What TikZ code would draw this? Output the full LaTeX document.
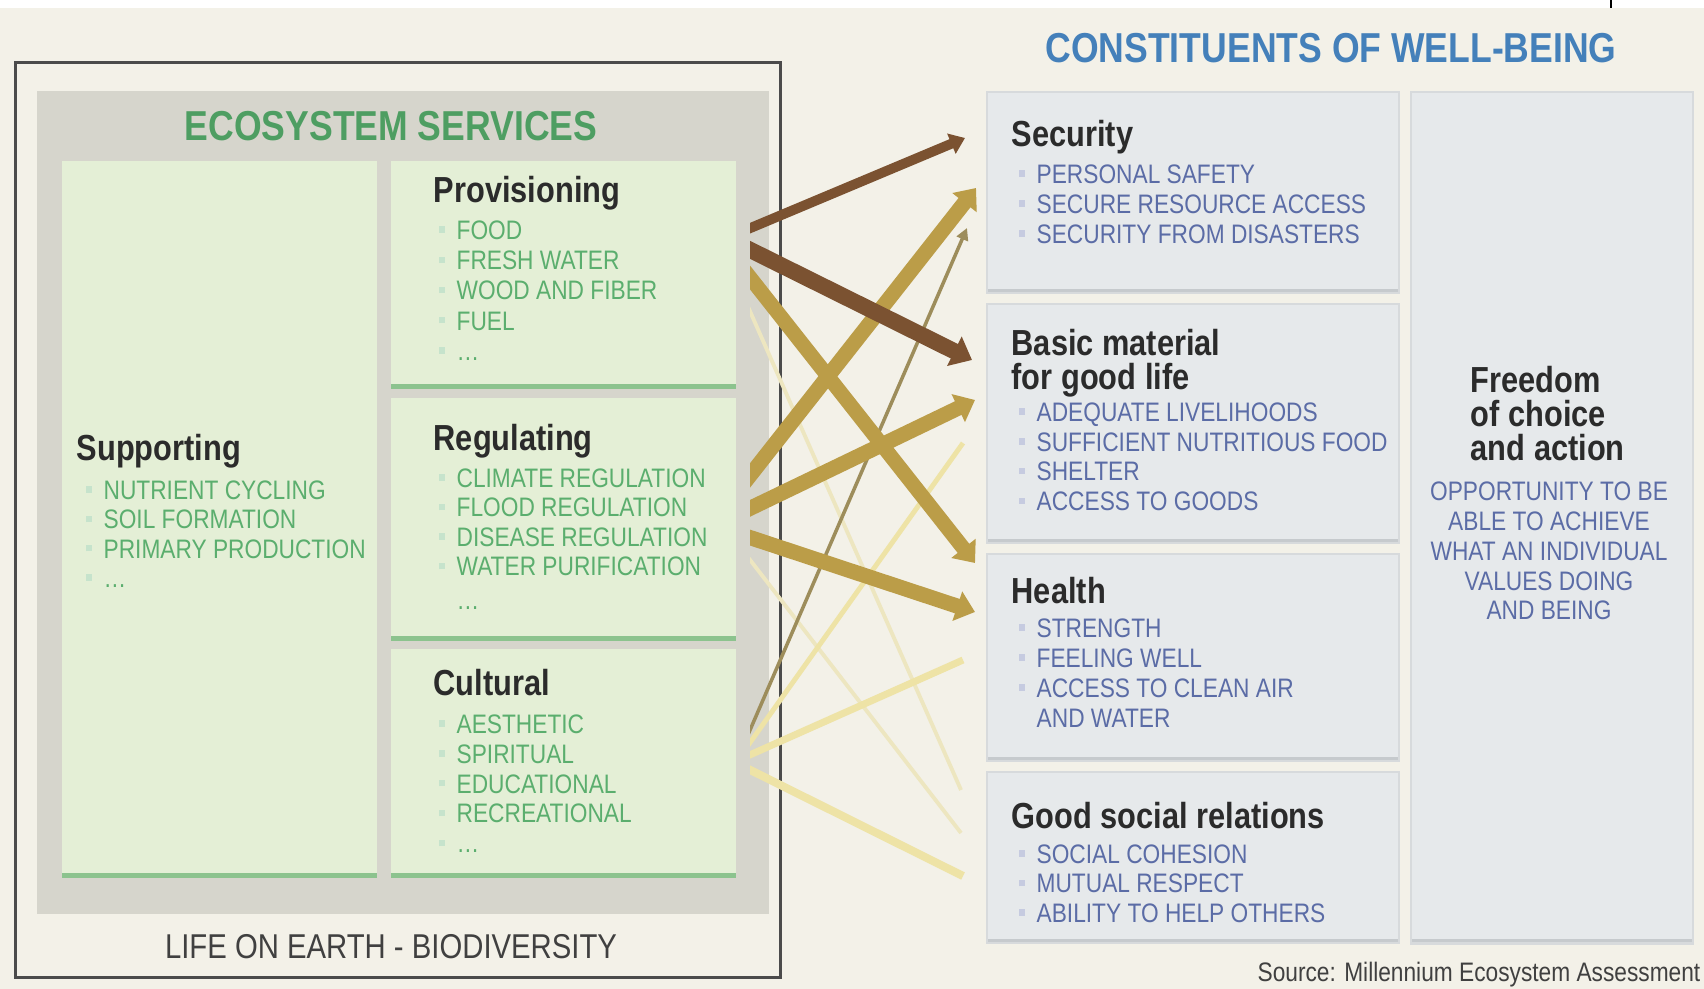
\documentclass[tikz,border=0pt]{standalone}
\usepackage{fontspec}
\setmainfont{Liberation Sans}[FakeStretch=0.85]
\usetikzlibrary{arrows.meta}

\definecolor{paper}{HTML}{F3F1E8}
\definecolor{frame}{HTML}{4B4B4B}
\definecolor{ecogray}{HTML}{D6D5CC}
\definecolor{ecofill}{HTML}{E4EFD6}
\definecolor{ecoline}{HTML}{8CC38E}
\definecolor{ecohead}{HTML}{4E9E62}
\definecolor{ecotext}{HTML}{5BAE6E}
\definecolor{wbfill}{HTML}{E6E9EB}
\definecolor{wbedge}{HTML}{C6CACD}
\definecolor{wbhead}{HTML}{4480BA}
\definecolor{wbtext}{HTML}{5B6CA6}
\definecolor{ink}{HTML}{2B2B2B}
\definecolor{linkbrown}{HTML}{7B5231}
\definecolor{linkgold}{HTML}{BB9D48}
\definecolor{linkolive}{HTML}{9D8D5B}
\definecolor{linkpale}{HTML}{EEE3A6}
\definecolor{linkpaler}{HTML}{EDE6C0}

\newcommand{\hdfont}{\fontsize{11.9}{13}\selectfont\bfseries}
\newcommand{\ttlfont}{\fontsize{10.3}{9.6}\selectfont\bfseries}
\newcommand{\itmfont}{\fontsize{7.6}{8.5}\selectfont}
\newcommand{\bul}{{\color{.!35}\rule[1.9pt]{1.8pt}{1.8pt}}\hspace{3.3pt}}

\tikzset{
  panel/.style={anchor=north west, inner sep=0pt, outer sep=0pt, fill=ecofill,
    path picture={\fill[ecoline] ([yshift=1.4pt]path picture bounding box.south west) rectangle (path picture bounding box.south east);}},
  wbbox/.style={anchor=north west, inner sep=0pt, outer sep=0pt, fill=wbfill, draw=wbedge!70, line width=0.6pt,
    path picture={\fill[wbedge] ([yshift=1.2pt]path picture bounding box.south west) rectangle (path picture bounding box.south east);}},
  ttl/.style={anchor=west, inner sep=0pt, font=\ttlfont, text=ink, text height=7.4pt, text depth=0pt},
  ttlblock/.style={anchor=north west, inner sep=0pt, font=\ttlfont, text=ink, align=left},
  ecoitem/.style={anchor=west, inner sep=0pt, font=\itmfont, text=ecotext, text height=5.4pt, text depth=0pt},
  wbitem/.style={ecoitem, text=wbtext},
  link/.style 2 args={draw=#1, line width=#2},
  tiphead/.style 2 args={-{Triangle[width=#1, length=#2]}}
}

\begin{document}
\begin{tikzpicture}[x=0.01cm, y=-0.01cm]
    \useasboundingbox (0,0) rectangle (1704,989);
    \fill[paper] (0,0) rectangle (1704,989);
    \fill[white] (0,0) rectangle (1704,8);
    \draw[black, line width=0.6pt] (1611,0) -- (1611,8);

    % ecosystem services side
    \node[anchor=north west, draw=frame, line width=0.85pt, fill=paper, inner sep=0pt, minimum width=7.65cm, minimum height=9.14cm] (earth) at (14,61) {};
    \node[anchor=north west, fill=ecogray, inner sep=0pt, minimum width=7.32cm, minimum height=8.23cm] (eco) at (36,90) {};
    \node[font=\hdfont, text=ecohead, inner sep=0pt] (ecotitle) at (391,126) {ECOSYSTEM SERVICES};
    \node[font=\fontsize{9.8}{11}\selectfont, text=ink!90, inner sep=0pt] (lifetitle) at (391,947) {LIFE ON EARTH - BIODIVERSITY};

    \node[panel, minimum width=3.15cm, minimum height=7.17cm] (sup) at (62,161) {};
    \node[panel, minimum width=3.45cm, minimum height=2.28cm] (prov) at (391,161) {};
    \node[panel, minimum width=3.45cm, minimum height=2.43cm] (reg) at (391,398) {};
    \node[panel, minimum width=3.45cm, minimum height=2.29cm] (cul) at (391,649) {};

    \node[ttl] (sup-t) at (76,447) {Supporting};
    \foreach \t [count=\i from 0] in {NUTRIENT CYCLING, SOIL FORMATION, PRIMARY PRODUCTION, \ldots}
      \node[ecoitem] (sup-\i) at (85,490+29.3*\i) {\bul\t};

    \node[ttl] (prov-t) at (433,189) {Provisioning};
    \foreach \t [count=\i from 0] in {FOOD, FRESH WATER, WOOD AND FIBER, FUEL, \ldots}
      \node[ecoitem] (prov-\i) at (438,230+30.2*\i) {\bul\t};

    \node[ttl] (reg-t) at (433,437) {Regulating};
    \foreach \t [count=\i from 0] in {CLIMATE REGULATION, FLOOD REGULATION, DISEASE REGULATION, WATER PURIFICATION}
      \node[ecoitem] (reg-\i) at (438,478+29.5*\i) {\bul\t};
    \node[ecoitem] (reg-4) at (456,600) {\ldots};

    \node[ttl] (cul-t) at (433,682) {Cultural};
    \foreach \t [count=\i from 0] in {AESTHETIC, SPIRITUAL, EDUCATIONAL, RECREATIONAL, \ldots}
      \node[ecoitem] (cul-\i) at (438,724+29.8*\i) {\bul\t};

    % constituents of well-being side
    \node[font=\hdfont, text=wbhead, inner sep=0pt] (wbtitle) at (1331,48) {CONSTITUENTS OF WELL-BEING};

    \node[wbbox, minimum width=4.12cm, minimum height=2.01cm] (sec) at (987,92) {};
    \node[wbbox, minimum width=4.12cm, minimum height=2.39cm] (basic) at (987,304) {};
    \node[wbbox, minimum width=4.12cm, minimum height=2.07cm] (health) at (987,554) {};
    \node[wbbox, minimum width=4.12cm, minimum height=1.71cm] (social) at (987,772) {};
    \node[wbbox, minimum width=2.82cm, minimum height=8.51cm] (free) at (1411,92) {};

    \node[ttl] (sec-t) at (1011,133) {Security};
    \foreach \t [count=\i from 0] in {PERSONAL SAFETY, SECURE RESOURCE ACCESS, SECURITY FROM DISASTERS}
      \node[wbitem] (sec-\i) at (1018,174+30*\i) {\bul\t};

    \node[ttlblock] (basic-t) at (1011,329) {Basic material\\for good life};
    \foreach \t [count=\i from 0] in {ADEQUATE LIVELIHOODS, SUFFICIENT NUTRITIOUS FOOD, SHELTER, ACCESS TO GOODS}
      \node[wbitem] (basic-\i) at (1018,412+29.7*\i) {\bul\t};

    \node[ttl] (health-t) at (1011,590) {Health};
    \foreach \t [count=\i from 0] in {STRENGTH, FEELING WELL, ACCESS TO CLEAN AIR}
      \node[wbitem] (health-\i) at (1018,628+30*\i) {\bul\t};
    \node[wbitem] (health-3) at (1036,718) {AND WATER};

    \node[ttl] (social-t) at (1011,815) {Good social relations};
    \foreach \t [count=\i from 0] in {SOCIAL COHESION, MUTUAL RESPECT, ABILITY TO HELP OTHERS}
      \node[wbitem] (social-\i) at (1018,854+29.5*\i) {\bul\t};

    \node[ttlblock] (free-t) at (1470,366) {Freedom\\of choice\\and action};
    \node[anchor=north, inner sep=0pt, font=\itmfont, text=wbtext, align=center] (free-d) at (1549,481)
      {OPPORTUNITY TO BE\\ABLE TO ACHIEVE\\WHAT AN INDIVIDUAL\\VALUES DOING\\AND BEING};

    \node[anchor=east, inner sep=0pt, font=\itmfont, text=ink!90, text height=5.4pt, text depth=0pt] (source) at (1701,972)
      {Source: Millennium Ecosystem Assessment};

    % links between services and constituents
    \begin{scope}
      \clip (750,0) rectangle (1704,989);
      \draw[link={linkpaler}{1.1pt}] ([shift={(0,119)}]prov.north east) -- ([shift={(-26,18)}]social.north west);
      \draw[link={linkpaler}{1.1pt}] ([shift={(0,144)}]reg.north east) -- ([shift={(-26,61)}]social.north west);
      \draw[link={linkpale}{1.4pt}] ([shift={(0,113)}]cul.north east) -- ([shift={(-24,139)}]basic.north west);
      \draw[link={linkpale}{2pt}] ([shift={(0,112)}]cul.north east) -- ([shift={(-24,106)}]health.north west);
      \draw[link={linkpale}{2.3pt}] ([shift={(0,114)}]cul.north east) -- ([shift={(-24,104)}]social.north west);
      \draw[link={linkolive}{1pt}, tiphead={3.4pt}{3.4pt}] ([shift={(0,113)}]cul.north east) -- ([shift={(-20,136)}]sec.north west);
      \draw[link={linkgold}{4.2pt}, tiphead={8.5pt}{5.3pt}] ([shift={(0,99)}]prov.north east) -- ([shift={(-12,9)}]health.north west);
      \draw[link={linkgold}{4.3pt}, tiphead={8.5pt}{5.3pt}] ([shift={(0,95)}]reg.north east) -- ([shift={(-11,96)}]sec.north west);
      \draw[link={linkgold}{4.3pt}, tiphead={8.5pt}{5.3pt}] ([shift={(0,117)}]reg.north east) -- ([shift={(-12,96)}]basic.north west);
      \draw[link={linkgold}{4.3pt}, tiphead={8.5pt}{5.3pt}] ([shift={(0,135)}]reg.north east) -- ([shift={(-12,58)}]health.north west);
      \draw[link={linkbrown}{2.8pt}, tiphead={6pt}{4.2pt}] ([shift={(0,73)}]prov.north east) -- ([shift={(-22,46)}]sec.north west);
      \draw[link={linkbrown}{4.6pt}, tiphead={9pt}{5.6pt}] ([shift={(0,82)}]prov.north east) -- ([shift={(-15,56)}]basic.north west);
    \end{scope}
\end{tikzpicture}
\end{document}
